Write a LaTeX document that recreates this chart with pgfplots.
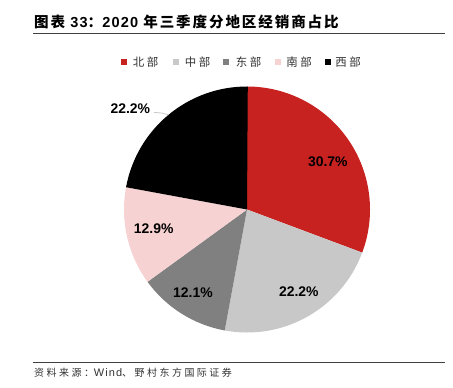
\documentclass[border=0pt]{standalone}
\usepackage{pgfplots}
\pgfplotsset{compat=1.18}
\usepackage{pgfplotstable}
\usepackage{fontspec}
\setmainfont{Liberation Sans}
\newfontfamily\cjk{Noto Sans CJK SC}
\newfontfamily\cjkT[LetterSpace=13]{Noto Sans CJK SC}
\newfontfamily\latT[LetterSpace=8]{Liberation Sans}
\newfontfamily\cjkS[LetterSpace=25]{Noto Sans CJK SC}
\newfontfamily\latS[LetterSpace=10]{Liberation Sans}
\newfontfamily\cjkL[LetterSpace=22]{Noto Sans CJK SC}
\definecolor{pie0}{RGB}{200,34,32}
\definecolor{pie1}{RGB}{200,200,200}
\definecolor{pie2}{RGB}{128,128,128}
\definecolor{pie3}{RGB}{247,210,210}
\definecolor{pie4}{RGB}{0,0,0}
\definecolor{rule}{RGB}{64,64,64}
\definecolor{txt}{RGB}{50,50,50}
\pgfplotstableread[col sep=comma]{
region,share,lx,ly
北部,30.7,0.657,0.389
中部,22.2,0.421,-0.665
东部,12.1,-0.439,-0.677
南部,12.9,-0.759,-0.160
西部,22.2,-0.949,0.823
}\piedata
\begin{document}
\begin{tikzpicture}[x=1bp,y=1bp]
\path[use as bounding box] (0,0) rectangle (453,387);
% title
\node[anchor=west,inner sep=0pt] at (34,365.3) {\fontsize{14.6}{17}\selectfont{\cjkT\bfseries 图表 }{\latT\bfseries 33}{\cjkT\bfseries ：}{\latT\bfseries 2020 }{\cjkT\bfseries 年三季度分地区经销商占比}};
\draw[rule,line width=1bp] (33,353.3) -- (445,353.3);
% legend
\foreach \c/\xs/\xt/\n in {pie0/124/145.5/北部, pie1/175.5/197.5/中部, pie2/226/248.5/东部, pie3/278/299/南部, pie4/328/348/西部}{
  \fill[\c] (\xs-3,324.7-3) rectangle (\xs+3,324.7+3);
  \node[inner sep=0pt,text=txt] at (\xt,324.7) {\fontsize{11.5}{13}\selectfont\cjkL \n};
}
% source
\draw[rule,line width=1bp] (33,25) -- (445,25);
\node[anchor=west,inner sep=0pt,text=txt] at (34,14) {\fontsize{10}{12}\selectfont{\cjkS 资料来源：}{\fontsize{11}{12}\selectfont\latS Wind}{\cjkS 、野村东方国际证券}};
\begin{axis}[
  at={(247bp,177.5bp)}, anchor=center,
  scale only axis, width=246bp, height=246bp,
  xmin=-1, xmax=1, ymin=-1, ymax=1,
  enlargelimits=false, hide axis, clip=false]
\pgfplotsextra{
  \def\cum{0}
  \pgfplotsforeachungrouped \i in {0,...,4}{
    \pgfplotstablegetelem{\i}{share}\of\piedata
    \let\v\pgfplotsretval
    \pgfplotstablegetelem{\i}{lx}\of\piedata
    \let\lx\pgfplotsretval
    \pgfplotstablegetelem{\i}{ly}\of\piedata
    \let\ly\pgfplotsretval
    \pgfmathsetmacro\a{90-\cum*3.6}
    \pgfmathsetmacro\b{90-(\cum+\v)*3.6}
    \pgfmathsetmacro\m{(\a+\b)/2}
    \fill[fill=pie\i] (axis cs:0,0) -- (axis cs:{cos(\a)},{sin(\a)}) arc[start angle=\a, end angle=\b, radius=123bp] -- cycle;
    \ifnum\i=4
      \draw[color=pie1,line width=0.8bp] (axis cs:{cos(\m)},{sin(\m)}) -- (axis cs:-0.70,0.785) -- (axis cs:-0.756,0.789);
    \fi
    \node[inner sep=0pt] at (axis cs:\lx,\ly) {\fontsize{14}{16}\selectfont\bfseries \v\%};
    \pgfmathsetmacro\cum{\cum+\v}
  }
}
\end{axis}
\end{tikzpicture}
\end{document}
